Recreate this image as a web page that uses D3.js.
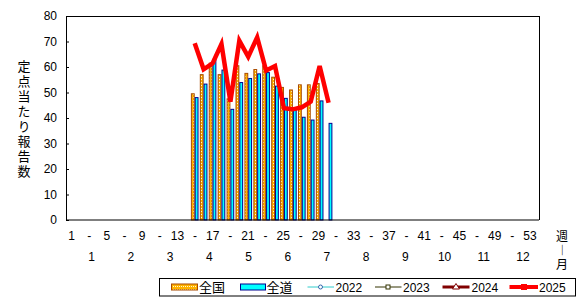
<!DOCTYPE html>
<html><head><meta charset="utf-8">
<script src="https://cdn.jsdelivr.net/npm/d3@7/dist/d3.min.js"></script>
<style>
html,body{margin:0;padding:0;background:#fff;}
svg{display:block;}
text{font-family:"Liberation Sans",Arial,sans-serif;font-size:12px;fill:#000;}
.jp{font-family:"Noto Sans CJK JP","Noto Sans",sans-serif;font-size:13px;}
.vert{writing-mode:vertical-rl;}
</style></head>
<body>
<script>
// ---- data ----
const weeks = d3.range(1, 54);
const weekLabels = [1,5,9,13,17,21,25,29,33,37,41,45,49,53];
const months = [1,2,3,4,5,6,7,8,9,10,11,12];
const yTicks = [0,10,20,30,40,50,60,70,80];
const barWeeksZenkoku = [15,16,17,18,19,20,21,22,23,24,25,26,27,28,29];
const zenkoku = [49.5,57,61.5,57,47.5,60.5,57.5,59,60.5,56,52,51,53,53,53.5];
const barWeeksZendo = [15,16,17,18,19,20,21,22,23,24,25,26,27,28,29,30];
const zendo = [48,53.3,63,58.8,43.4,53.9,55.5,57.3,57.8,52.5,47.7,43.1,40.3,39.2,46.7,37.9];
const weeks2025 = [15,16,17,18,19,20,21,22,23,24,25,26,27,28,29,30];
const y2025 = [69.3,59.1,61.4,69,46.4,70.3,64,71.6,58.6,60.4,43.8,43.4,44.2,46.4,60.4,46];
const y2022 = [];
const y2023 = [];
const y2024 = [];
const yTitle = "定点当たり報告数";
const xUnit = "週―月";

// ---- layout ----
const W = 579, H = 299;
const px0 = 66, px1 = 539, py0 = 16, py1 = 220;

const svg = d3.select("body").append("svg").attr("width", W).attr("height", H);
const defs = svg.append("defs");
const pat = defs.append("pattern").attr("id","dots").attr("patternUnits","userSpaceOnUse")
  .attr("width",2).attr("height",3);
pat.append("rect").attr("width",2).attr("height",3).attr("fill","#FFB300");
pat.append("rect").attr("x",1).attr("y",1).attr("width",1).attr("height",1).attr("fill","#FFF6D0");

const x = d3.scaleBand().domain(weeks).range([px0-0.7, px1-0.7]).padding(0);
const sub = d3.scaleBand().domain(["全国","全道"]).range([0, x.bandwidth()]).paddingInner(0).paddingOuter(0.17);
const y = d3.scaleLinear().domain([0,80]).range([py1, py0]);

// frame top/right
svg.append("path").attr("d", `M${px0},${py0}H${px1}V${py1}`).attr("fill","none").attr("stroke","#000").attr("stroke-width",1).attr("shape-rendering","crispEdges");

// bars
const bw = sub.bandwidth();
svg.append("g").selectAll("rect").data(barWeeksZenkoku.map((w,i)=>({w, v:zenkoku[i]}))).join("rect")
  .attr("x", d => x(d.w) + sub("全国") + 0.5)
  .attr("y", d => y(d.v))
  .attr("width", bw - 1)
  .attr("height", d => y(0) - y(d.v))
  .attr("fill","url(#dots)").attr("stroke","#A84A00").attr("stroke-width",1);
svg.append("g").selectAll("rect").data(barWeeksZendo.map((w,i)=>({w, v:zendo[i]}))).join("rect")
  .attr("x", d => x(d.w) + sub("全道") + 0.5)
  .attr("y", d => y(d.v))
  .attr("width", bw - 1)
  .attr("height", d => y(0) - y(d.v))
  .attr("fill","#00FFFF").attr("stroke","#000090").attr("stroke-width",1);

// lines
const line = d3.line().x(d => x(d.w) + x.bandwidth()/2).y(d => y(d.v));
function drawLine(ws, vs, color, width){
  const pts = ws.map((w,i)=>({w, v:vs[i]})).filter(d => d.v != null);
  if (pts.length < 2) return;
  svg.append("path").datum(pts).attr("d", line).attr("fill","none")
    .attr("stroke", color).attr("stroke-width", width).attr("stroke-linejoin","miter");
}
drawLine(weeks, y2022, "#33CCCC", 1);
drawLine(weeks, y2023, "#333300", 1);
drawLine(weeks, y2024, "#800000", 3);
drawLine(weeks2025, y2025, "#FF0000", 4.5);

// y axis
const yAxis = svg.append("g").attr("transform", `translate(${px0},0)`)
  .call(d3.axisLeft(y).tickValues(yTicks).tickSize(-3).tickPadding(9));
yAxis.select(".domain").attr("stroke","#000");
yAxis.selectAll("text").style("font-family","Liberation Sans, Arial, sans-serif").style("font-size","12px");
// x axis baseline
svg.append("line").attr("x1",px0).attr("x2",px1).attr("y1",py1).attr("y2",py1)
  .attr("stroke","#000").attr("stroke-width",1.2);

// week labels
const wl = d3.scalePoint().domain(weekLabels).range([71.7, 530]);
svg.append("g").selectAll("text").data(weekLabels).join("text")
  .attr("x", d => wl(d)).attr("y", 240).attr("text-anchor","middle").text(d => d);
svg.append("g").selectAll("text").data(weekLabels.slice(0,-1)).join("text")
  .attr("x", (d,i) => (wl(d) + wl(weekLabels[i+1]))/2).attr("y", 240).attr("text-anchor","middle").text("-");
// month labels
const ml = d3.scalePoint().domain(months).range([91.7, 523]);
svg.append("g").selectAll("text").data(months).join("text")
  .attr("x", d => ml(d)).attr("y", 261).attr("text-anchor","middle").text(d => d);
// 週―月 (vertical)
svg.append("text").attr("class","jp vert").attr("x",562).attr("y",230)
  .style("font-size","12px").style("letter-spacing","2px").text(xUnit);

// y title (vertical)
svg.append("text").attr("class","jp vert").attr("x",24).attr("y",60)
  .style("letter-spacing","2px").text(yTitle);

// legend
const lg = svg.append("g");
lg.append("rect").attr("x",159.5).attr("y",278.5).attr("width",416).attr("height",17.5)
  .attr("fill","#fff").attr("stroke","#000");
const ly = 287;
lg.append("rect").attr("x",171.5).attr("y",284).attr("width",26).attr("height",6).attr("fill","url(#dots)").attr("stroke","#A84A00");
lg.append("text").attr("class","jp").attr("x",199).attr("y",ly+5).text("全国");
lg.append("rect").attr("x",240.5).attr("y",284).attr("width",25).attr("height",6).attr("fill","#00FFFF").attr("stroke","#000090");
lg.append("text").attr("class","jp").attr("x",266.5).attr("y",ly+5).text("全道");
// 2022
lg.append("line").attr("x1",307.5).attr("x2",334).attr("y1",ly).attr("y2",ly).attr("stroke","#33CCCC");
lg.append("circle").attr("cx",320.5).attr("cy",ly).attr("r",2).attr("fill","#fff").attr("stroke","#3366AA");
lg.append("text").attr("x",335.5).attr("y",ly+5).text("2022");
// 2023
lg.append("line").attr("x1",375).attr("x2",401.5).attr("y1",ly).attr("y2",ly).attr("stroke","#333300");
lg.append("rect").attr("x",386).attr("y",ly-2).attr("width",4).attr("height",4).attr("fill","#fff").attr("stroke","#333300");
lg.append("text").attr("x",403).attr("y",ly+5).text("2023");
// 2024
lg.append("line").attr("x1",442.5).attr("x2",469.5).attr("y1",ly).attr("y2",ly).attr("stroke","#800000").attr("stroke-width",3);
lg.append("path").attr("d",`M456,${ly-3.5}L459.5,${ly+2}L452.5,${ly+2}Z`).attr("fill","#fff").attr("stroke","#800000");
lg.append("text").attr("x",471.5).attr("y",ly+5).text("2024");
// 2025
lg.append("line").attr("x1",509.5).attr("x2",538).attr("y1",ly).attr("y2",ly).attr("stroke","#FF0000").attr("stroke-width",4);
lg.append("rect").attr("x",521).attr("y",ly-3).attr("width",6).attr("height",6).attr("fill","#FF0000");
lg.append("text").attr("x",539).attr("y",ly+5).text("2025");
</script>
</body></html>
